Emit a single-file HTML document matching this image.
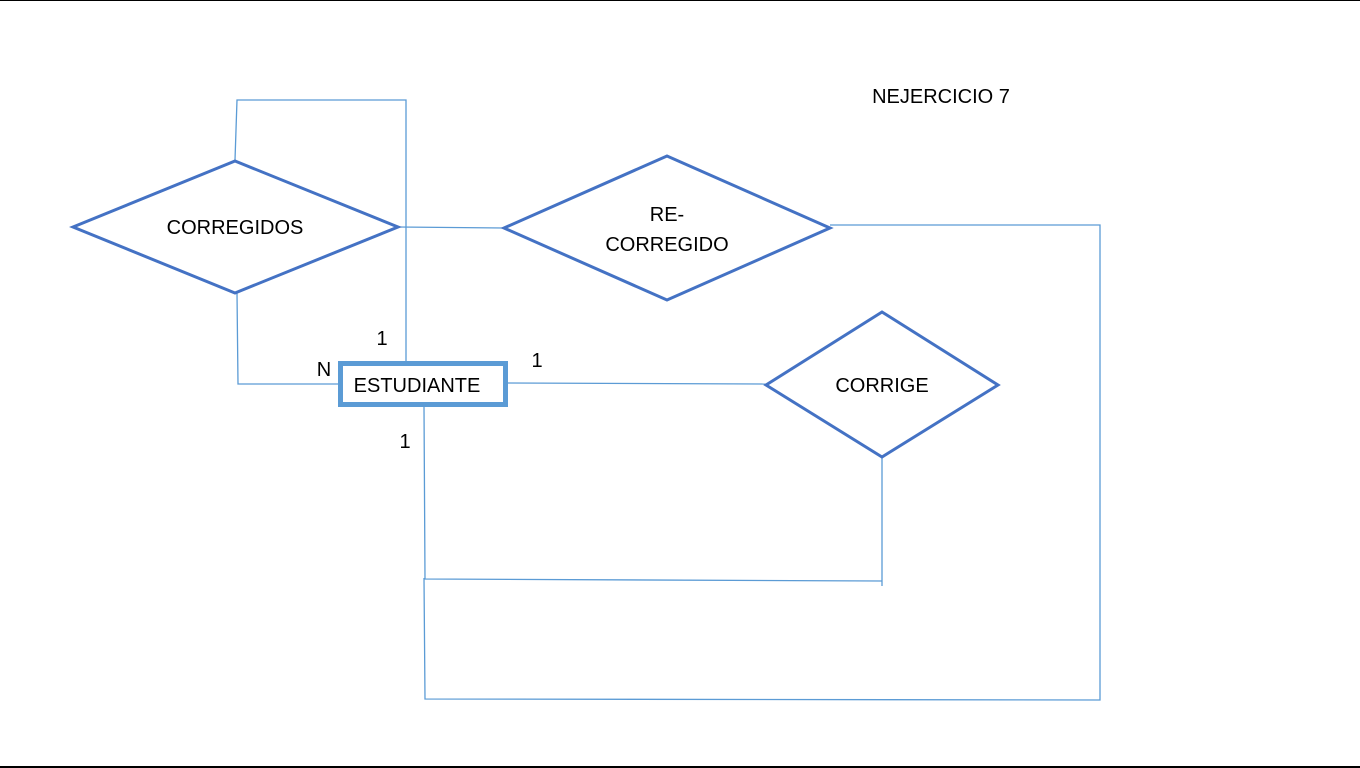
<!DOCTYPE html>
<html><head><meta charset="utf-8"><style>
html,body{margin:0;padding:0;background:#fff;}
svg{display:block;}
text{font-family:"Liberation Sans",Calibri,sans-serif;fill:#000;}
</style></head><body>
<svg width="1360" height="768" viewBox="0 0 1360 768" xmlns="http://www.w3.org/2000/svg">
<rect width="1360" height="768" fill="#fff"/>
<line x1="0" y1="0.5" x2="1360" y2="0.5" stroke="#000" stroke-width="1"/>
<line x1="0" y1="767" x2="1360" y2="767" stroke="#000" stroke-width="2"/>
<g fill="none" stroke="#5b9bd5" stroke-width="1.3">
<polyline points="235,160 237,100 406,100 406,361"/>
<line x1="398" y1="227" x2="504" y2="228"/>
<polyline points="237,293 238,384 340,384"/>
<line x1="508" y1="383" x2="766" y2="384"/>
<polyline points="424,407 425,579 882,581"/>
<line x1="882" y1="457" x2="882" y2="586"/>
<polyline points="830,225 1100,225 1100,700 425,699 424,578"/>
</g>
<g fill="#fff" stroke="#4472c4" stroke-width="3">
<polygon points="73,227 235,161 398,227 235,293"/>
<polygon points="504,228 667,156 830,228 667,300"/>
<polygon points="766,385 882,312 998,385 882,457"/>
</g>
<rect x="340.5" y="363.5" width="165" height="41" fill="#fff" stroke="#5b9bd5" stroke-width="5"/>
<g font-size="20">
<text x="235" y="234" text-anchor="middle">CORREGIDOS</text>
<text x="667" y="221" text-anchor="middle">RE-</text>
<text x="667" y="251" text-anchor="middle">CORREGIDO</text>
<text x="882" y="392" text-anchor="middle">CORRIGE</text>
<text x="417" y="392" text-anchor="middle">ESTUDIANTE</text>
<text x="941" y="103" text-anchor="middle">NEJERCICIO 7</text>
<text x="382" y="345" text-anchor="middle">1</text>
<text x="324" y="376" text-anchor="middle">N</text>
<text x="537" y="367" text-anchor="middle">1</text>
<text x="405" y="448" text-anchor="middle">1</text>
</g>
</svg>
</body></html>
